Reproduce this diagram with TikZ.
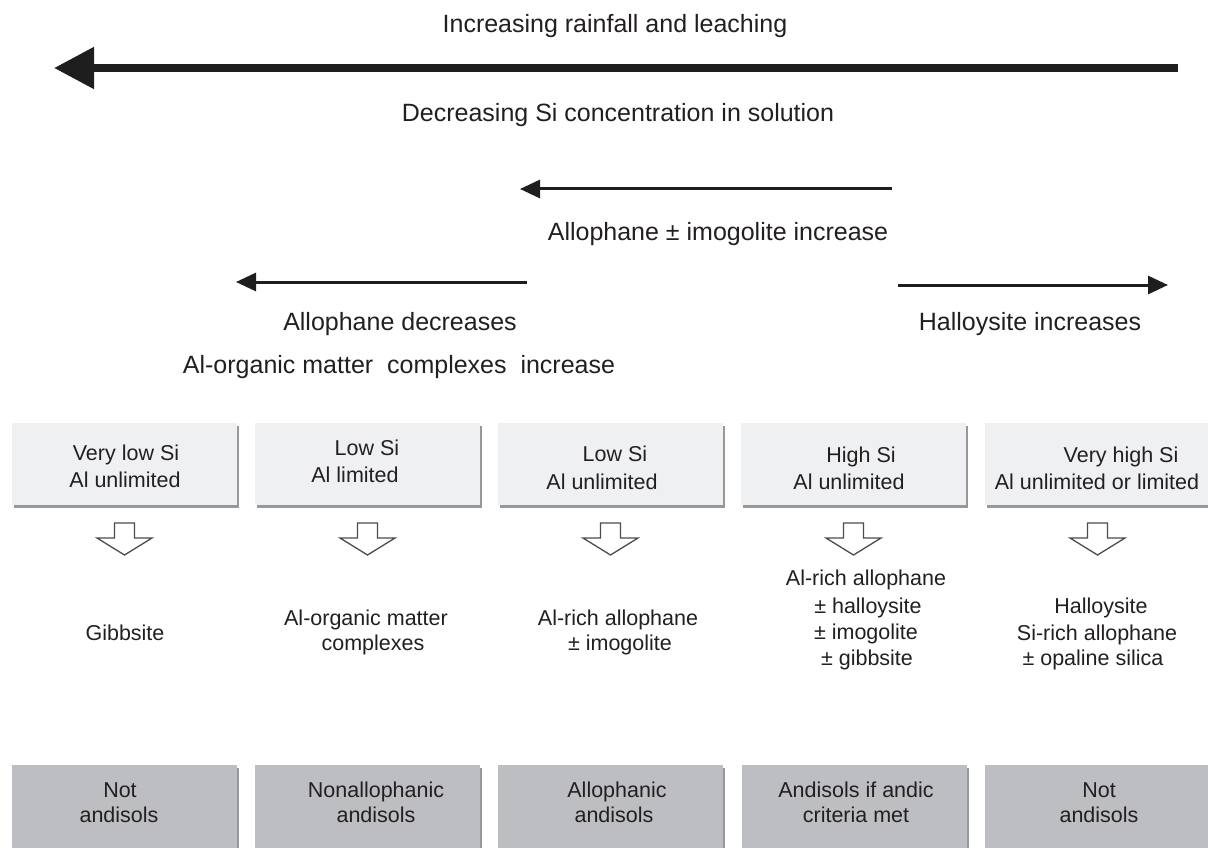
\documentclass[tikz,border=0pt]{standalone}
\usepackage{fontspec}
\setmainfont{Liberation Sans}
\usetikzlibrary{arrows.meta,shadows}
\definecolor{txt}{HTML}{231F20}
\definecolor{ink}{HTML}{1E1E1E}
\definecolor{boxlight}{HTML}{EFF0F2}
\definecolor{boxdark}{HTML}{BDBEC1}
\definecolor{shad}{HTML}{7E7F82}
\tikzset{
  big/.style={font=\fontsize{25}{30}\selectfont, text=txt, inner sep=0pt, anchor=base},
  small/.style={font=\fontsize{21.5}{26}\selectfont, text=txt, inner sep=0pt, anchor=base},
  topbox/.style={fill=boxlight, minimum width=225pt, minimum height=82pt, inner sep=0pt,
    drop shadow={shadow xshift=1.5pt, shadow yshift=-2.5pt, fill=shad, opacity=0.8}},
  botbox/.style={fill=boxdark, minimum width=225pt, minimum height=100pt, inner sep=0pt,
    drop shadow={shadow xshift=1.5pt, shadow yshift=-2.5pt, fill=shad, opacity=0.8}},
  thickarrow/.style={draw=ink, line width=8pt, -{Triangle[length=40pt,width=40pt]}},
  thinarrow/.style={draw=ink, line width=3pt, -{Triangle[length=20pt,width=18pt]}},
  hollow/.style={draw=black!70, line width=1.3pt, fill=white, line join=miter},
}
\begin{document}
\begin{tikzpicture}[x=1pt,y=-1pt]
\useasboundingbox (0,0) rectangle (1208,848);
\clip (0,0) rectangle (1208,848);
\fill[white] (0,0) rectangle (1208,848);

% top arrows
\coordinate (a1s) at (1178,68); \coordinate (a1e) at (54,68);
\draw[thickarrow] (a1s) -- (a1e);
\node[big] (l1) at (615,33) {Increasing rainfall and leaching};
\node[big] (l2) at (618,122) {Decreasing Si concentration in solution};

\coordinate (a2s) at (892,189); \coordinate (a2e) at (520,189);
\draw[thinarrow] (a2s) -- (a2e);
\node[big] (l3) at (718,240) {Allophane ± imogolite increase};

\coordinate (a3s) at (527,282); \coordinate (a3e) at (236,282);
\draw[thinarrow] (a3s) -- (a3e);
\coordinate (a4s) at (898,285); \coordinate (a4e) at (1168,285);
\draw[thinarrow] (a4s) -- (a4e);

\node[big] (l4) at (400,330) {Allophane decreases};
\node[big] (l5) at (1030,330) {Halloysite increases};
\node[big] (l6) at (399,373) {Al-organic matter\ \ complexes\ \ increase};

% top boxes
\node[topbox] (b1) at (124.5,464) {};
\node[topbox] (b2) at (367.5,464) {};
\node[topbox] (b3) at (610.5,464) {};
\node[topbox] (b4) at (853.5,464) {};
\node[topbox] (b5) at (1097.5,464) {};

\node[small] (b1a) at (126,460) {Very low Si};
\node[small] (b1b) at (125,487) {Al unlimited};
\node[small] (b2a) at (367,455) {Low Si};
\node[small] (b2b) at (355,482) {Al limited};
\node[small] (b3a) at (615,461) {Low Si};
\node[small] (b3b) at (602,489) {Al unlimited};
\node[small] (b4a) at (861,462) {High Si};
\node[small] (b4b) at (849,489) {Al unlimited};
\node[small] (b5a) at (1121,462) {Very high Si};
\node[small] (b5b) at (1097,489) {Al unlimited or limited};

% hollow arrows
\foreach \x in {124.5,367.5,610.5,853.5,1097.5}{
  \draw[hollow] (\x-10,523) -- (\x+10,523) -- (\x+10,538) -- (\x+27.5,538)
     -- (\x,555) -- (\x-27.5,538) -- (\x-10,538) -- cycle;
}

% middle texts
\node[small] (m1) at (125,640) {Gibbsite};
\node[small] (m2a) at (366,625) {Al-organic matter};
\node[small] (m2b) at (373,650) {complexes};
\node[small] (m3a) at (618,625) {Al-rich allophane};
\node[small] (m3b) at (620,650) {± imogolite};
\node[small] (m4a) at (866,585) {Al-rich allophane};
\node[small] (m4b) at (868,613) {± halloysite};
\node[small] (m4c) at (866,639) {± imogolite};
\node[small] (m4d) at (867,665) {± gibbsite};
\node[small] (m5a) at (1101,613) {Halloysite};
\node[small] (m5b) at (1097,640) {Si-rich allophane};
\node[small] (m5c) at (1093,665) {± opaline silica};

% bottom boxes
\node[botbox] (c1) at (124.5,815) {};
\node[botbox] (c2) at (367.5,815) {};
\node[botbox] (c3) at (610.5,815) {};
\node[botbox] (c4) at (854.5,815) {};
\node[botbox] (c5) at (1097.5,815) {};

\node[small] (c1a) at (120,797) {Not};
\node[small] (c1b) at (119,822) {andisols};
\node[small] (c2a) at (376,797) {Nonallophanic};
\node[small] (c2b) at (376,822) {andisols};
\node[small] (c3a) at (617,797) {Allophanic};
\node[small] (c3b) at (614,822) {andisols};
\node[small] (c4a) at (856,797) {Andisols if andic};
\node[small] (c4b) at (856,822) {criteria met};
\node[small] (c5a) at (1099,797) {Not};
\node[small] (c5b) at (1099,822) {andisols};
\end{tikzpicture}
\end{document}
